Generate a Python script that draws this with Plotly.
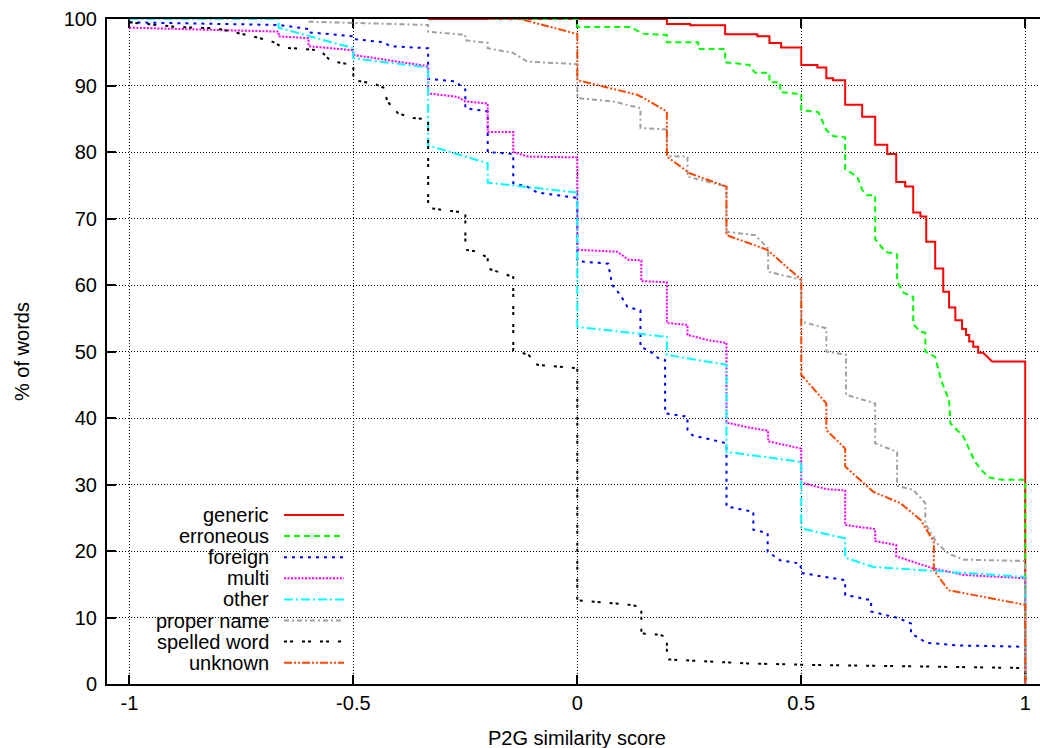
import plotly.graph_objects as go

# ---------------- data ----------------
series_names = ["generic", "erroneous", "foreign", "multi", "other",
                "proper name", "spelled word", "unknown"]

generic_pts = [(-0.333, 100), (0.20, 100), (0.20, 99.25), (0.252, 99.25), (0.252, 99.05),
               (0.330, 99.05), (0.330, 97.7), (0.402, 97.7), (0.402, 97.4), (0.429, 97.4),
               (0.429, 96.4), (0.455, 96.4), (0.455, 95.7), (0.5, 95.7), (0.5, 93.1),
               (0.536, 93.1), (0.536, 92.7), (0.556, 92.7), (0.556, 91.1), (0.571, 91.1),
               (0.571, 90.8), (0.598, 90.8), (0.598, 87.1), (0.636, 87.1), (0.636, 85.3),
               (0.665, 85.3), (0.665, 81.1), (0.692, 81.1), (0.692, 79.7), (0.712, 79.7),
               (0.712, 75.5), (0.732, 75.5), (0.732, 74.8), (0.75, 74.8), (0.75, 70.9),
               (0.766, 70.9), (0.766, 70.3), (0.779, 70.3), (0.779, 66.5), (0.799, 66.5),
               (0.799, 62.5), (0.817, 62.5), (0.817, 59.0), (0.830, 59.0), (0.830, 56.6),
               (0.844, 56.6), (0.844, 54.7), (0.859, 54.7), (0.859, 53.4), (0.868, 53.4),
               (0.868, 52.5), (0.875, 52.5), (0.875, 51.5), (0.884, 51.5), (0.884, 50.7),
               (0.895, 50.7), (0.895, 49.8), (0.906, 49.8), (0.926, 48.5), (1.0, 48.5),
               (1.0, 0)]

erroneous_pts = [(-0.19, 100), (0, 100), (0, 98.8), (0.118, 98.8), (0.147, 97.8), (0.2, 97.6),
                 (0.2, 96.5), (0.27, 96.5), (0.27, 95.5), (0.33, 95.5), (0.33, 93.5),
                 (0.384, 93.1), (0.397, 91.9), (0.429, 91.9), (0.429, 90.5), (0.453, 90.5),
                 (0.453, 89.0), (0.5, 88.7), (0.5, 86.3), (0.538, 86.0), (0.556, 83.3),
                 (0.571, 82.4), (0.598, 82.2), (0.598, 77.4), (0.625, 76.3), (0.636, 74.3),
                 (0.647, 73.5), (0.665, 73.5), (0.665, 66.9), (0.688, 65.0), (0.714, 64.6),
                 (0.714, 60.5), (0.729, 58.8), (0.75, 58.2), (0.75, 54.1), (0.766, 53.0),
                 (0.777, 52.8), (0.777, 50.0), (0.799, 49.2), (0.812, 45.7), (0.830, 42.7),
                 (0.833, 39.2), (0.862, 37.2), (0.873, 35.7), (0.888, 33.4), (0.906, 31.9),
                 (0.922, 31.0), (0.95, 30.7), (1.0, 30.7), (1.0, 0)]

foreign_pts = [(-1, 99.5), (-0.665, 99.1), (-0.60, 98.5), (-0.60, 98.0), (-0.5, 97.4),
               (-0.5, 97.0), (-0.433, 96.5), (-0.417, 95.9), (-0.333, 95.6), (-0.333, 91.0),
               (-0.272, 90.6), (-0.25, 89.4), (-0.25, 86.6), (-0.2, 86.1), (-0.2, 80.0),
               (-0.143, 79.7), (-0.143, 75.3), (-0.112, 74.8), (-0.089, 73.9), (0, 73.1),
               (0, 63.6), (0.069, 63.2), (0.078, 60.0), (0.096, 58.5), (0.112, 56.7),
               (0.141, 56.2), (0.141, 50.7), (0.163, 50.0), (0.181, 49.0), (0.196, 48.7),
               (0.196, 40.7), (0.246, 40.2), (0.246, 38.2), (0.257, 37.4), (0.333, 36.2),
               (0.333, 26.7), (0.393, 25.9), (0.393, 23.2), (0.425, 22.7), (0.425, 19.9),
               (0.453, 18.6), (0.498, 18.1), (0.5, 16.7), (0.598, 15.6), (0.598, 13.4),
               (0.656, 12.6), (0.656, 10.9), (0.717, 9.9), (0.745, 9.1), (0.745, 7.6),
               (0.78, 6.2), (0.85, 5.8), (1.0, 5.6), (1.0, 0)]

multi_pts = [(-1, 98.7), (-0.77, 98.3), (-0.667, 98.1), (-0.667, 97.4), (-0.60, 97.1),
             (-0.60, 95.9), (-0.5, 95.3), (-0.5, 94.6), (-0.333, 92.9), (-0.333, 88.8),
             (-0.268, 88.3), (-0.25, 87.6), (-0.2, 87.3), (-0.2, 83.0), (-0.143, 83.0),
             (-0.143, 80.0), (-0.109, 79.3), (0, 79.2), (0, 65.3), (0.089, 65.0),
             (0.114, 63.8), (0.143, 63.7), (0.143, 60.6), (0.2, 60.4), (0.2, 54.3),
             (0.246, 54.0), (0.246, 52.5), (0.292, 51.7), (0.333, 51.3), (0.333, 39.3),
             (0.388, 38.5), (0.426, 38.1), (0.426, 36.5), (0.5, 35.4), (0.5, 30.3),
             (0.556, 29.3), (0.598, 29.1), (0.598, 23.9), (0.665, 23.3), (0.665, 21.5),
             (0.712, 20.9), (0.712, 19.2), (0.757, 18.2), (0.794, 17.4), (0.862, 16.4),
             (1.0, 15.9), (1.0, 0)]

other_pts = [(-1, 100), (-0.667, 100), (-0.667, 98.7), (-0.5, 95.6), (-0.5, 94.1),
             (-0.333, 92.7), (-0.333, 81.0), (-0.2, 78.3), (-0.2, 75.4), (0, 73.9),
             (0, 53.7), (0.2, 52.2), (0.2, 49.5), (0.333, 48.0), (0.333, 34.9),
             (0.5, 33.4), (0.5, 23.4), (0.598, 21.9), (0.598, 19.0), (0.661, 17.6),
             (1.0, 16.1), (1.0, 0)]

proper_pts = [(-0.6, 99.6), (-0.333, 99.1), (-0.333, 98.1), (-0.25, 97.6), (-0.25, 96.8),
              (-0.2, 96.4), (-0.2, 95.6), (-0.143, 94.9), (-0.112, 93.6), (0, 93.2),
              (0, 88.1), (0.080, 87.6), (0.141, 86.6), (0.141, 83.6), (0.2, 83.4),
              (0.2, 79.4), (0.246, 79.3), (0.246, 76.3), (0.333, 74.8), (0.333, 68.0),
              (0.397, 67.5), (0.426, 65.5), (0.426, 62.0), (0.5, 60.8), (0.5, 54.5),
              (0.556, 53.5), (0.556, 50.0), (0.600, 49.5), (0.600, 43.5), (0.665, 42.2),
              (0.665, 36.2), (0.714, 34.9), (0.714, 29.8), (0.75, 29.2), (0.777, 27.2),
              (0.777, 24.1), (0.804, 21.1), (0.829, 19.6), (0.862, 18.7), (1.0, 18.5),
              (1.0, 0)]

spelled_pts = [(-1, 99.5), (-0.933, 99.1), (-0.893, 98.8), (-0.806, 98.6), (-0.770, 98.1),
               (-0.725, 97.4), (-0.681, 96.6), (-0.656, 95.7), (-0.574, 95.3), (-0.551, 93.7),
               (-0.511, 93.2), (-0.5, 93.0), (-0.5, 90.8), (-0.455, 90.3), (-0.433, 89.7),
               (-0.424, 87.6), (-0.40, 85.8), (-0.366, 85.1), (-0.333, 84.9), (-0.333, 71.6),
               (-0.268, 71.0), (-0.25, 71.0), (-0.25, 65.3), (-0.223, 65.0), (-0.2, 64.1),
               (-0.2, 62.5), (-0.156, 61.5), (-0.143, 61.2), (-0.143, 50.2), (-0.109, 49.5),
               (-0.089, 48.0), (0, 47.5), (0, 12.6), (0.118, 11.9), (0.143, 11.6),
               (0.143, 7.6), (0.185, 7.4), (0.2, 7.0), (0.2, 3.7), (0.379, 3.1),
               (0.5, 2.9), (1.0, 2.4), (1.0, 0)]

unknown_pts = [(-0.2, 100), (-0.127, 100), (-0.004, 97.8), (0, 97.8), (0, 90.8),
               (0.134, 88.6), (0.156, 87.8), (0.2, 86.1), (0.2, 79.3), (0.251, 76.8),
               (0.333, 74.8), (0.333, 67.5), (0.424, 65.3), (0.5, 60.8), (0.5, 46.5),
               (0.556, 42.2), (0.556, 38.2), (0.598, 35.4), (0.598, 32.7), (0.661, 28.9),
               (0.721, 27.2), (0.766, 24.7), (0.796, 21.4), (0.796, 17.1), (0.829, 14.1),
               (1.0, 11.9), (1.0, 0)]

x_tick_vals = [-1, -0.5, 0, 0.5, 1]
x_tick_text = ["-1", "-0.5", "0", "0.5", "1"]
y_tick_vals = [0, 10, 20, 30, 40, 50, 60, 70, 80, 90, 100]
x_title = "P2G similarity score"
y_title = "% of words"

# ---------------- styles ----------------
all_pts = [generic_pts, erroneous_pts, foreign_pts, multi_pts, other_pts,
           proper_pts, spelled_pts, unknown_pts]
colors = ["#ff0000", "#00ff00", "#0000ff", "#ff00ff", "#00ffff",
          "#a0a0a0", "#000000", "#ff4500"]
dashes = ["solid", "6px,4px", "3px,5px", "2px,1.5px", "9px,3px,2px,3px",
          "5px,3px,2px,3px", "3px,3px,3px,9px", "8px,2px,2px,2px,2px,2px"]

FONT = "Liberation Sans, Arial, Helvetica, sans-serif"
W, H = 1040, 748
L, R, T, B = 107, 0, 19, 64
PW, PH = W - L - R, H - T - B


def px_x(p):
    return (p - L) / PW


def px_y(p):
    return (H - B - p) / PH


fig = go.Figure()
for name, pts, c, d in zip(series_names, all_pts, colors, dashes):
    xs = [p[0] for p in pts]
    ys = [p[1] for p in pts]
    fig.add_trace(go.Scatter(x=xs, y=ys, mode="lines", name=name,
                             line=dict(color=c, width=2, dash=d),
                             showlegend=False, hoverinfo="skip"))

shapes = [dict(type="rect", xref="paper", yref="paper",
               x0=px_x(109), x1=px_x(356), y0=px_y(682), y1=px_y(498),
               fillcolor="white", line=dict(width=0), layer="between")]
annotations = []
for i, (name, c, d) in enumerate(zip(series_names, colors, dashes)):
    ypx = 515 + 21.1 * i
    annotations.append(dict(text=name, xref="paper", yref="paper",
                            x=px_x(271), y=px_y(ypx), xanchor="right", yanchor="middle",
                            showarrow=False, font=dict(family=FONT, size=20, color="black")))
    shapes.append(dict(type="line", xref="paper", yref="paper",
                       x0=px_x(284), x1=px_x(344), y0=px_y(ypx), y1=px_y(ypx),
                       line=dict(color=c, width=2, dash=d), layer="above"))

annotations.append(dict(text=x_title, xref="paper", yref="paper",
                        x=px_x(577), y=px_y(738), xanchor="center", yanchor="middle",
                        showarrow=False, font=dict(family=FONT, size=20, color="black")))
annotations.append(dict(text=y_title, xref="paper", yref="paper", textangle=-90,
                        x=px_x(22), y=px_y(352), xanchor="center", yanchor="middle",
                        showarrow=False, font=dict(family=FONT, size=20, color="black")))

axis_common = dict(showline=True, linecolor="black", linewidth=2,
                   ticks="inside", ticklen=9, tickwidth=1.5, tickcolor="black",
                   showgrid=True, gridcolor="black", gridwidth=1, griddash="1px,2px",
                   zeroline=False, layer="below traces",
                   tickfont=dict(family=FONT, size=20, color="black"))

fig.update_layout(
    width=W, height=H,
    margin=dict(l=L, r=R, t=T, b=B, pad=0),
    paper_bgcolor="white", plot_bgcolor="white",
    xaxis=dict(range=[-1.05, 1.033], tickvals=x_tick_vals, ticktext=x_tick_text,
               mirror="ticks", **axis_common),
    yaxis=dict(range=[0, 100], tickvals=y_tick_vals, mirror=False,
               ticklabelstandoff=4, **axis_common),
    shapes=shapes, annotations=annotations,
    hovermode=False, showlegend=False,
)

fig.write_html("out.html", config={"displayModeBar": False},
               post_script="document.body.style.margin='0';")
